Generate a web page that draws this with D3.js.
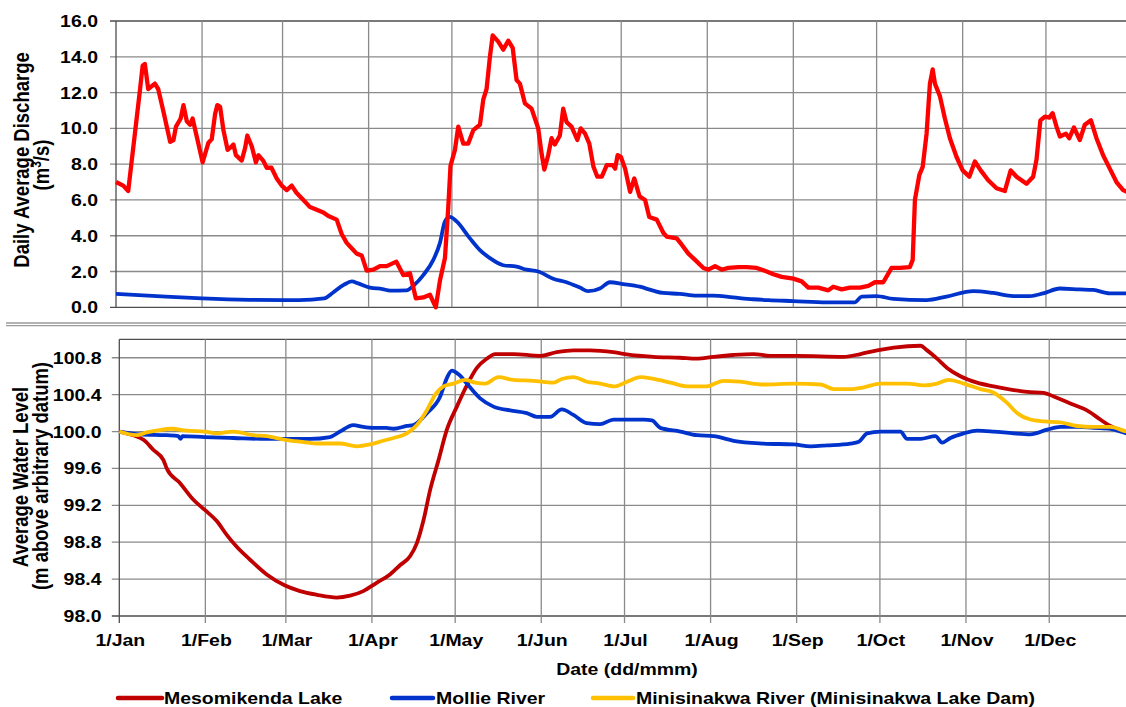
<!DOCTYPE html>
<html>
<head>
<meta charset="utf-8">
<script src="https://cdn.jsdelivr.net/npm/d3@7"></script>
<style>
  html, body { margin: 0; padding: 0; background: #fff; }
  svg { display: block; }
  text { font-family: "Liberation Sans", Arial, sans-serif; font-weight: bold; fill: #000; }
</style>
</head>
<body>
<svg id="chart" width="1126" height="707"></svg>
<script>
// ---------- DATA (day of year, 0 = 1 Jan) ----------
const monthTicks = ["1/Jan","1/Feb","1/Mar","1/Apr","1/May","1/Jun","1/Jul","1/Aug","1/Sep","1/Oct","1/Nov","1/Dec"];
const dischargeTicks = [0, 2, 4, 6, 8, 10, 12, 14, 16];
const levelTicks = [98.0, 98.4, 98.8, 99.2, 99.6, 100.0, 100.4, 100.8];
const seriesNames = ["Mesomikenda Lake", "Mollie River", "Minisinakwa River (Minisinakwa Lake Dam)"];

const mesoDischargeDays = [0,2.6,4.4,6.8,8.6,9.6,10.4,11.6,14,15.2,17,19.5,20.7,21.6,23.3,24.3,25.5,26.7,27.6,29,31.2,33.3,34.5,35.7,36.5,37.5,38.7,40.2,41.7,42.3,43.2,45.3,46.5,47.3,48.9,50.4,51.3,53,54.3,56,57.9,59.7,61.5,63.3,65,67.5,69.9,72.3,74.7,76.5,79.5,81.3,83.1,84.9,86.7,88.5,90.3,92.7,95.1,97.5,101,103.5,105.9,108,110.7,113.1,115.2,116.7,118.5,119.7,120.5,122.1,123.3,125.1,126.9,128.7,131.1,132.3,133.5,134.7,135.7,137.7,139.5,141.3,142.9,144.3,145.5,147.3,149.7,150.9,152.1,153.3,154.3,155.7,156.9,158.1,159.9,161.1,162.3,164.1,166.2,167.4,169,170.5,172,173.4,175,176.8,179,179.8,180.7,181.9,183.4,185.2,186.7,188.6,190.6,192.1,194.8,197.2,198.4,202,203.8,206.2,208.6,211.6,213.4,215.8,218.2,220.6,224.2,227.2,230.8,234.4,236.8,239.8,244,247,249.4,253,256.6,258.4,261.4,264.4,268,271,273.4,276.4,279.4,282.4,286,287,287.8,289.4,290.6,292,293.2,294.2,295,296.8,298.6,300.4,302.8,305,307.4,309.4,311.5,314.2,317.2,320.2,322.3,324.4,328,330.4,331.6,333,334.6,336.2,337.4,338.8,340,342.2,343.4,345.1,347.2,349,351.2,353.2,355.6,358,360.4,362.8,365];
const mesoDischarge = [7.0,6.8,6.5,9.7,12.1,13.5,13.6,12.2,12.5,12.2,11.0,9.25,9.35,10.1,10.55,11.3,10.4,10.2,10.55,9.6,8.1,9.2,9.4,10.8,11.3,11.2,9.9,8.8,9.0,9.1,8.5,8.2,8.9,9.6,9.0,8.1,8.5,8.2,7.8,7.8,7.2,6.8,6.55,6.8,6.4,6.0,5.6,5.45,5.3,5.1,4.9,4.1,3.6,3.3,3.0,2.9,2.05,2.1,2.3,2.3,2.55,1.8,1.9,0.5,0.55,0.7,0.0,1.5,2.75,5.6,7.9,8.8,10.1,9.15,9.15,9.9,10.2,11.6,12.2,14.0,15.2,14.85,14.4,14.9,14.5,12.7,12.5,11.4,11.1,10.55,10.0,8.6,7.7,8.5,9.45,9.1,9.6,11.1,10.35,10.1,9.35,10.0,9.7,9.15,7.85,7.3,7.3,7.95,7.95,7.75,8.5,8.4,7.75,6.45,7.2,6.2,6.0,5.05,4.9,4.15,3.95,3.85,3.5,3.0,2.65,2.2,2.1,2.3,2.1,2.2,2.25,2.25,2.2,2.0,1.85,1.7,1.6,1.45,1.1,1.1,0.95,1.15,1.0,1.1,1.1,1.2,1.4,1.4,2.2,2.2,2.25,2.65,6.0,7.4,7.85,9.7,12.5,13.3,12.5,11.8,10.55,9.45,8.4,7.65,7.3,8.15,7.65,7.1,6.65,6.5,7.65,7.3,6.9,7.3,8.25,10.45,10.65,10.6,10.85,10.1,9.55,9.7,9.45,10.05,9.35,10.2,10.45,9.45,8.5,7.75,7.0,6.55,6.4];

const mollieDischargeDays = [0,18,31,48,66,75,78,82,85,87,91.5,96,98.7,104.7,107.1,110.7,114.3,116.7,118.5,120.3,122.7,127.5,131.1,134.7,139.5,144.3,147.9,152.1,157.5,162.3,167.1,170.1,174.3,177.9,182.7,188.7,193.5,197.1,203.1,209.1,215.1,222.3,229.5,235,244,256,266.2,268.6,274,280,292,299.2,308.8,316,323.2,329.2,334,340,347.2,352,358,365];
const mollieDischarge = [0.75,0.6,0.5,0.42,0.4,0.5,0.8,1.25,1.45,1.35,1.1,1.02,0.93,0.95,1.2,1.8,2.65,3.6,4.8,5.05,4.8,3.85,3.2,2.75,2.35,2.27,2.1,2.0,1.6,1.4,1.1,0.9,1.05,1.4,1.3,1.15,0.93,0.8,0.75,0.65,0.65,0.55,0.45,0.4,0.35,0.28,0.28,0.6,0.63,0.47,0.4,0.6,0.9,0.8,0.63,0.63,0.78,1.05,1.0,0.97,0.78,0.78];

const mesoLevelDays = [0,5,8.7,12.3,15.9,17.1,21.9,26.7,30.8,35.1,38.7,42.3,47.1,53.1,59.7,65.1,71.1,78.3,83.1,87.9,92.7,97.5,101.1,104.8,107.2,109.6,112,115,118,121.6,125.2,128.8,132.4,135.4,142,151.6,157.6,163.6,169.6,178,184,192.4,202,208,214,221.3,228.5,234.5,244.2,261,267,273,279,288.6,291,294.6,298.2,303,309,315,322.2,327,333,336.6,343.8,348.6,353.4,357,362.9,365];
const mesoLevel = [100.0,99.96,99.91,99.8,99.69,99.6,99.44,99.26,99.15,99.03,98.88,98.75,98.61,98.45,98.33,98.27,98.23,98.2,98.22,98.27,98.36,98.45,98.55,98.65,98.79,99.04,99.37,99.69,100.02,100.27,100.5,100.69,100.79,100.84,100.84,100.82,100.86,100.88,100.88,100.86,100.83,100.81,100.8,100.79,100.81,100.83,100.84,100.82,100.82,100.81,100.84,100.88,100.91,100.93,100.88,100.79,100.69,100.6,100.53,100.49,100.45,100.43,100.42,100.38,100.29,100.23,100.13,100.06,99.99,99.97];

const mollieLevelDays = [0,7.4,17.1,21.3,22,22.8,30.8,41.1,53.1,68.7,75.9,79.5,84.3,87.9,91.5,96.3,98.8,103.6,106,110.8,115.6,118,119.8,122.2,125.2,130,134.8,140.8,146.8,150.4,155.2,159.4,163.6,168.4,173.2,178,182.9,188.9,191.9,194.9,202.1,208.1,214.1,221.3,232.1,243,249,255,263.4,266.4,269.4,274.2,281.4,283.8,288.6,294,296.4,299.4,304.2,309,315,322.2,328.2,334.2,339,345,351,357,362.9,365];
const mollieLevel = [100.0,99.97,99.96,99.95,99.92,99.95,99.94,99.93,99.92,99.92,99.94,100.0,100.07,100.05,100.04,100.04,100.03,100.06,100.07,100.2,100.38,100.58,100.66,100.62,100.52,100.36,100.27,100.23,100.2,100.16,100.16,100.24,100.18,100.09,100.08,100.13,100.13,100.13,100.12,100.04,100.0,99.96,99.95,99.9,99.87,99.86,99.84,99.85,99.87,99.89,99.98,100.0,100.0,99.92,99.92,99.95,99.88,99.93,99.98,100.01,100.0,99.98,99.97,100.02,100.05,100.05,100.04,100.03,99.98,99.97];

const minisLevelDays = [0,6.2,9.8,13.5,18.9,24.3,30.8,35.1,41.1,48.3,53.1,59.7,65.1,72.3,79.5,85.5,90.3,95.1,98.8,103.6,107.2,110.8,113.8,116.8,120.4,124.6,128.2,131.8,136.6,142,149.2,156.4,159.4,163.6,168.4,173.2,178.6,182.9,187.7,192.5,198.5,204.5,211.6,217.6,223.6,232,243,252.6,257.4,263.4,268.2,274.2,283.8,289.8,294.6,298.8,304.2,310.2,315,319.8,323.4,328.2,333,339,345,351,357,362.9,365];
const minisLevel = [100.0,99.96,99.99,100.01,100.03,100.01,100.0,99.98,100.0,99.96,99.95,99.91,99.89,99.87,99.87,99.84,99.86,99.9,99.93,99.98,100.07,100.23,100.4,100.49,100.52,100.56,100.53,100.52,100.59,100.56,100.55,100.53,100.57,100.59,100.54,100.52,100.49,100.54,100.59,100.57,100.53,100.49,100.49,100.55,100.54,100.51,100.52,100.51,100.46,100.46,100.48,100.52,100.52,100.5,100.52,100.56,100.52,100.46,100.42,100.31,100.2,100.13,100.11,100.1,100.06,100.05,100.05,100.0,99.99];

// ---------- SETUP ----------
const svg = d3.select("#chart");
const start = new Date(2012, 0, 1), end = new Date(2013, 0, 1);
const toDate = d => new Date(start.getTime() + d * 86400000);
const zip = (days, vals) => days.map((d, i) => ({ date: toDate(d), v: vals[i] }));
const months = d3.timeMonth.range(start, end);

const GRID = "#8a8a8a", AXIS = "#4d4d4d";
const SX = 1.18; // horizontal text stretch of the reference

function label(g, x, y, str, anchor, size, rot) {
  const t = g.append("text")
    .attr("transform", `translate(${x},${y}) scale(${SX},1)` + (rot ? ` rotate(${rot})` : ""))
    .attr("text-anchor", anchor)
    .style("font-size", size + "px");
  if (Array.isArray(str)) {
    str.forEach(s => { const ts = t.append("tspan").text(s[0]); if (s[1]) ts.attr("baseline-shift", "super").style("font-size", (size * 0.65) + "px"); });
  } else t.text(str);
  return t;
}

// ---------- TOP PANEL: discharge ----------
const xTop = d3.scaleTime().domain([start, end]).range([116, 1132]);
const yTop = d3.scaleLinear().domain([0, 16]).range([307.3, 21]);
const gTop = svg.append("g");

gTop.selectAll(".hgrid").data(dischargeTicks).join("line")
  .attr("x1", 110).attr("x2", 1132)
  .attr("y1", d => yTop(d)).attr("y2", d => yTop(d))
  .attr("stroke", d => (d === 0 || d === 16) ? AXIS : GRID).attr("stroke-width", 1.3);
gTop.selectAll(".vgrid").data(months.slice(1)).join("line")
  .attr("x1", d => xTop(d)).attr("x2", d => xTop(d))
  .attr("y1", yTop(16)).attr("y2", yTop(0))
  .attr("stroke", GRID).attr("stroke-width", 1.3);
gTop.append("line").attr("x1", xTop(start)).attr("x2", xTop(start))
  .attr("y1", yTop(16)).attr("y2", yTop(0)).attr("stroke", AXIS).attr("stroke-width", 1.3);

dischargeTicks.forEach(v => label(gTop, 98, yTop(v) + 6, d3.format(".1f")(v), "end", 16.5));

const lineTop = d3.line().x(d => xTop(d.date)).y(d => yTop(d.v));
gTop.append("path").datum(zip(mollieDischargeDays, mollieDischarge))
  .attr("d", lineTop.curve(d3.curveMonotoneX)).attr("fill", "none")
  .attr("stroke", "#0033cc").attr("stroke-width", 3.8).attr("stroke-linejoin", "round");
gTop.append("path").datum(zip(mesoDischargeDays, mesoDischarge))
  .attr("d", lineTop.curve(d3.curveLinear)).attr("fill", "none")
  .attr("stroke", "#ff0000").attr("stroke-width", 4.3).attr("stroke-linejoin", "round");

label(gTop, 28.5, 160, "Daily Average Discharge", "middle", 18.5, -90);
label(gTop, 48.5, 165, [["(m"], ["3", true], ["/s)"]], "middle", 18.5, -90);

// separator
[323, 325.6].forEach(y => svg.append("line").attr("x1", 6).attr("x2", 1126)
  .attr("y1", y).attr("y2", y).attr("stroke", "#9a9a9a").attr("stroke-width", 1.3));

// ---------- BOTTOM PANEL: water level ----------
const xBot = d3.scaleTime().domain([start, end]).range([119.3, 1135.3]);
const yBot = d3.scaleLinear().domain([98, 101]).range([616, 339.3]);
const gBot = svg.append("g");

gBot.selectAll(".hgrid").data(levelTicks).join("line")
  .attr("x1", 111.8).attr("x2", 1135)
  .attr("y1", d => yBot(d)).attr("y2", d => yBot(d))
  .attr("stroke", (d, i) => i === 0 ? AXIS : GRID).attr("stroke-width", 1.3);
gBot.append("line").attr("x1", xBot(start)).attr("x2", 1135)
  .attr("y1", yBot(101)).attr("y2", yBot(101)).attr("stroke", AXIS).attr("stroke-width", 1.3);
gBot.selectAll(".vgrid").data(months).join("line")
  .attr("x1", d => xBot(d)).attr("x2", d => xBot(d))
  .attr("y1", yBot(101)).attr("y2", yBot(98) + 7)
  .attr("stroke", (d, i) => i === 0 ? AXIS : GRID).attr("stroke-width", 1.3);

levelTicks.forEach(v => label(gBot, 101.5, yBot(v) + 6, d3.format(".1f")(v), "end", 16.5));
months.forEach((m, i) => label(gBot, xBot(m) + 1, 646, monthTicks[i], "middle", 16.5));

const lineBot = d3.line().curve(d3.curveMonotoneX).x(d => xBot(d.date)).y(d => yBot(d.v));
const botSeries = [
  { data: zip(mesoLevelDays, mesoLevel), color: "#c00000" },
  { data: zip(mollieLevelDays, mollieLevel), color: "#0033cc" },
  { data: zip(minisLevelDays, minisLevel), color: "#ffc000" }
];
botSeries.forEach(s => gBot.append("path").datum(s.data).attr("d", lineBot)
  .attr("fill", "none").attr("stroke", s.color).attr("stroke-width", 3.8).attr("stroke-linejoin", "round"));

label(gBot, 27.5, 477, "Average Water Level", "middle", 18.5, -90);
label(gBot, 47.5, 476, "(m above arbitrary datum)", "middle", 18.5, -90);
label(gBot, 627, 675, "Date (dd/mmm)", "middle", 16.5);

// ---------- LEGEND ----------
const legendX = [[118, 162, 164], [392, 433, 436], [593, 633, 636]];
const legendColors = ["#c00000", "#0033cc", "#ffc000"];
seriesNames.forEach((n, i) => {
  svg.append("line").attr("x1", legendX[i][0]).attr("x2", legendX[i][1])
    .attr("y1", 698).attr("y2", 698).attr("stroke", legendColors[i])
    .attr("stroke-width", 4.5).attr("stroke-linecap", "round");
  label(svg, legendX[i][2], 703.5, n, "start", 16.5);
});
</script>
</body>
</html>
